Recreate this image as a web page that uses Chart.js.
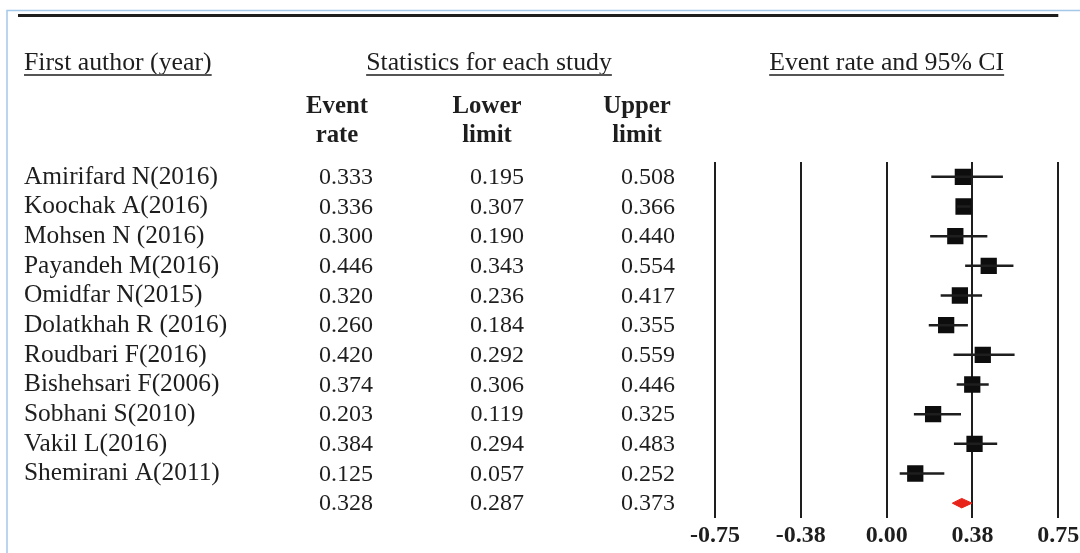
<!DOCTYPE html>
<html>
<head>
<meta charset="utf-8">
<script src="https://cdn.jsdelivr.net/npm/chart.js@4.4.1/dist/chart.umd.min.js"></script>
<style>
  body { margin: 0; background: #fff; }
  #forest { display: block; }
</style>
</head>
<body>
<canvas id="forest" width="1080" height="553"></canvas>
<script>
// study data
const authors = ['Amirifard N(2016)', 'Koochak A(2016)', 'Mohsen N (2016)', 'Payandeh M(2016)',
    'Omidfar N(2015)', 'Dolatkhah R (2016)', 'Roudbari F(2016)', 'Bishehsari F(2006)',
    'Sobhani S(2010)', 'Vakil L(2016)', 'Shemirani A(2011)'];
const eventRate = [0.333, 0.336, 0.300, 0.446, 0.320, 0.260, 0.420, 0.374, 0.203, 0.384, 0.125];
const lowerLimit = [0.195, 0.307, 0.190, 0.343, 0.236, 0.184, 0.292, 0.306, 0.119, 0.294, 0.057];
const upperLimit = [0.508, 0.366, 0.440, 0.554, 0.417, 0.355, 0.559, 0.446, 0.325, 0.483, 0.252];
// pooled estimate: event rate, lower, upper
const pooled = [0.328, 0.287, 0.373];

const xTickValues = [-0.75, -0.375, 0, 0.375, 0.75];
const xTickLabels = ['-0.75', '-0.38', '0.00', '0.38', '0.75'];

const summaryRow = authors.length;
const ink = '#1e1e1e';
const serif = "'Liberation Serif', 'Times New Roman', serif";

// CI whiskers as one line with gaps between studies
const ciPoints = [];
for (let i = 0; i < authors.length; i++) {
    ciPoints.push({ x: lowerLimit[i], y: i }, { x: upperLimit[i], y: i }, { x: null, y: null });
}

const diamondHalf = 0.16;
const diamond = [
    { x: pooled[1], y: summaryRow },
    { x: pooled[0], y: summaryRow - diamondHalf },
    { x: pooled[2], y: summaryRow },
    { x: pooled[0], y: summaryRow + diamondHalf },
    { x: pooled[1], y: summaryRow }
];

const tablePlugin = {
    id: 'tableText',
    afterDraw(chart) {
        const ctx = chart.ctx;
        const y = chart.scales.y;
        const area = chart.chartArea;
        ctx.save();

        // light blue frame of the figure
        ctx.strokeStyle = '#a4c8e8';
        ctx.lineWidth = 1.5;
        ctx.beginPath();
        ctx.moveTo(7, 553);
        ctx.lineTo(7, 10.5);
        ctx.lineTo(1080, 10.5);
        ctx.stroke();

        // heavy rule at the top
        ctx.strokeStyle = ink;
        ctx.lineWidth = 3;
        ctx.beginPath();
        ctx.moveTo(18, 15.5);
        ctx.lineTo(area.right, 15.5);
        ctx.stroke();

        ctx.fillStyle = ink;
        ctx.textBaseline = 'alphabetic';

        function underlined(text, x, align) {
            ctx.font = '25.8px ' + serif;
            ctx.textAlign = align;
            ctx.fillText(text, x, 70);
            const w = ctx.measureText(text).width;
            const x0 = align === 'center' ? x - w / 2 : x;
            ctx.strokeStyle = '#555';
            ctx.lineWidth = 2;
            ctx.beginPath();
            ctx.moveTo(x0, 75);
            ctx.lineTo(x0 + w, 75);
            ctx.stroke();
        }
        underlined('First author (year)', 24, 'left');
        underlined('Statistics for each study', 489, 'center');
        underlined('Event rate and 95% CI', (area.left + area.right) / 2, 'center');

        // column heads
        const headX = [337, 487, 637];
        const headTop = ['Event', 'Lower', 'Upper'];
        const headBottom = ['rate', 'limit', 'limit'];
        ctx.font = 'bold 24.8px ' + serif;
        ctx.textAlign = 'center';
        headX.forEach((x, k) => {
            ctx.fillText(headTop[k], x, 113);
            ctx.fillText(headBottom[k], x, 142);
        });

        // numeric columns
        const colX = [346, 497, 648];
        ctx.font = '24px ' + serif;
        ctx.textBaseline = 'middle';
        const cols = [eventRate, lowerLimit, upperLimit];
        for (let i = 0; i <= summaryRow; i++) {
            const py = y.getPixelForValue(i) + 1;
            cols.forEach((col, k) => {
                const v = i < summaryRow ? col[i] : pooled[k];
                ctx.fillText(v.toFixed(3), colX[k], py);
            });
        }
        ctx.restore();
    }
};

new Chart(document.getElementById('forest'), {
    type: 'scatter',
    data: {
        datasets: [
            {
                label: '95% CI',
                data: ciPoints,
                showLine: true,
                spanGaps: false,
                borderColor: ink,
                borderWidth: 2.5,
                pointRadius: 0
            },
            {
                label: 'Event rate',
                data: eventRate.map((v, i) => ({ x: v, y: i })),
                pointStyle: 'rect',
                pointRadius: 11.5,
                backgroundColor: '#0d0d0d',
                borderWidth: 0
            },
            {
                label: 'Pooled',
                data: diamond,
                showLine: true,
                fill: 'shape',
                backgroundColor: '#e8231a',
                borderColor: '#e8231a',
                borderWidth: 1,
                pointRadius: 0
            }
        ]
    },
    options: {
        responsive: false,
        animation: false,
        layout: { padding: { top: 162, left: 24, right: 21.7, bottom: 4 } },
        plugins: { legend: { display: false }, tooltip: { enabled: false } },
        scales: {
            x: {
                type: 'linear',
                min: -0.75,
                max: 0.75,
                afterBuildTicks: s => { s.ticks = xTickValues.map(v => ({ value: v })); },
                afterFit: s => { s.paddingLeft = 0; s.paddingRight = 0; s.height = 31; },
                ticks: {
                    callback: (v, i) => xTickLabels[i],
                    color: ink,
                    padding: 6,
                    maxRotation: 0,
                    font: { family: serif, size: 24, weight: 'bold', lineHeight: 1 }
                },
                grid: { color: ink, lineWidth: 2, drawTicks: false },
                border: { display: false }
            },
            y: {
                type: 'linear',
                reverse: true,
                min: -0.5,
                max: summaryRow + 0.5,
                afterBuildTicks: s => { s.ticks = authors.map((a, i) => ({ value: i })); },
                afterFit: s => { s.width = 691; },
                ticks: {
                    callback: v => authors[v],
                    crossAlign: 'far',
                    padding: 0,
                    color: ink,
                    font: { family: serif, size: 25.4 }
                },
                grid: { display: false },
                border: { display: false }
            }
        }
    },
    plugins: [tablePlugin]
});
</script>
</body>
</html>
